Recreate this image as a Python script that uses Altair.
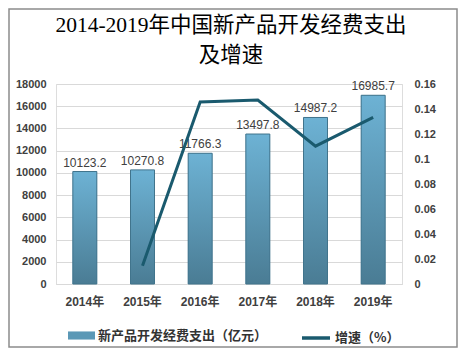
import altair as alt
import pandas as pd

years = ["2014年", "2015年", "2016年", "2017年", "2018年", "2019年"]
spend = [10123.2, 10270.8, 11766.3, 13497.8, 14987.2, 16985.7]
growth = [None, 0.0146, 0.1456, 0.1472, 0.1103, 0.1333]
bar_name = "新产品开发经费支出（亿元）"
line_name = "增速（%）"
title_lines = ["2014-2019年中国新产品开发经费支出", "及增速"]

df = pd.DataFrame({"year": years, "spend": spend, "growth": growth,
                   "s1": [bar_name] * 6, "s2": [line_name] * 6})

LABEL_FONT = "Liberation Sans, Noto Sans CJK SC"
x_enc = alt.X("year:N", sort=years, title=None,
              axis=alt.Axis(labelAngle=0, labelFontSize=12, labelFontWeight="bold",
                            labelColor="#404040", labelPadding=12, ticks=False,
                            domainColor="#d9d9d9", labelFont=LABEL_FONT))
y_left = alt.Y("spend:Q", title=None,
               scale=alt.Scale(domain=[0, 18000], nice=False),
               axis=alt.Axis(values=list(range(0, 18001, 2000)), format="d",
                             labelFontSize=11,
                             labelFontWeight="bold", labelColor="#404040",
                             labelPadding=10, ticks=False, domain=False,
                             gridColor="#d9d9d9", labelFont=LABEL_FONT))

grad = alt.Gradient(gradient="linear",
                    stops=[alt.GradientStop(color="#6db2d4", offset=0),
                           alt.GradientStop(color="#4a7c94", offset=1)],
                    x1=1, x2=1, y1=0, y2=1)

base = alt.Chart(df)
bar_legend = base.mark_bar(size=24).encode(
    x=x_enc, y=y_left,
    color=alt.Color("s1:N", scale=alt.Scale(domain=[bar_name], range=["#5b98b6"]),
                    legend=alt.Legend(title=None, orient="none", legendX=12, legendY=238,
                                      symbolType="M-1,-0.3L1,-0.3L1,0.3L-1,0.3Z",
                                      symbolSize=729, symbolStrokeWidth=0,
                                      labelFontSize=13, labelFontWeight="bold",
                                      labelColor="#333333", labelOffset=3,
                                      labelFont="Noto Sans CJK SC", labelLimit=400)))
bars = base.mark_bar(size=24, fill=grad, stroke="#41748c", strokeWidth=1).encode(
    x=x_enc, y=y_left)
labels = base.mark_text(dy=-9, fontSize=12, color="#404040", font=LABEL_FONT).encode(
    x=x_enc, y=y_left, text=alt.Text("spend:Q", format=".1f"))

left = alt.layer(bar_legend, bars, labels)

line = base.mark_line(strokeWidth=3).encode(
    x=x_enc,
    y=alt.Y("growth:Q", title=None, scale=alt.Scale(domain=[0, 0.16], nice=False),
            axis=alt.Axis(orient="right", values=[0, 0.02, 0.04, 0.06, 0.08, 0.1, 0.12, 0.14, 0.16],
                          format=".2~f", labelFontSize=11, labelFontWeight="bold",
                          labelColor="#404040", labelPadding=12, ticks=False,
                          domain=False, grid=False, labelFont=LABEL_FONT)),
    stroke=alt.Stroke("s2:N", scale=alt.Scale(domain=[line_name], range=["#1a5a6e"]),
                      legend=alt.Legend(title=None, orient="none", legendX=244, legendY=238,
                                        symbolType="stroke", symbolSize=784,
                                        symbolStrokeWidth=3.5,
                                        labelFontSize=13, labelFontWeight="bold",
                                        labelColor="#333333", labelOffset=3,
                                        labelFont="Noto Sans CJK SC")))

deco = alt.Data(values=[{}])
border = alt.Chart(deco).mark_rect(
    filled=False, stroke="#8c8c8c", strokeWidth=1.5).encode(
    x=alt.value(-47), x2=alt.value(401), y=alt.value(-75), y2=alt.value(263))

title = alt.Chart(deco).mark_text(
    text=title_lines, fontSize=21.5, font="Liberation Serif, Noto Sans CJK SC",
    fontWeight="normal", color="#000000", align="center", baseline="top",
    lineHeight=30).encode(x=alt.value(175), y=alt.value(-69))

chart = alt.layer(left, line, border, title).resolve_scale(
    y="independent", color="independent", stroke="independent"
).properties(
    width=346, height=200,
    autosize=alt.AutoSizeParams(type="none"),
    padding={"left": 48, "top": 76, "right": 56, "bottom": 64},
).configure_view(stroke=None).configure(background="white")

chart.save("out.html", embed_options={"renderer": "svg", "actions": False})
